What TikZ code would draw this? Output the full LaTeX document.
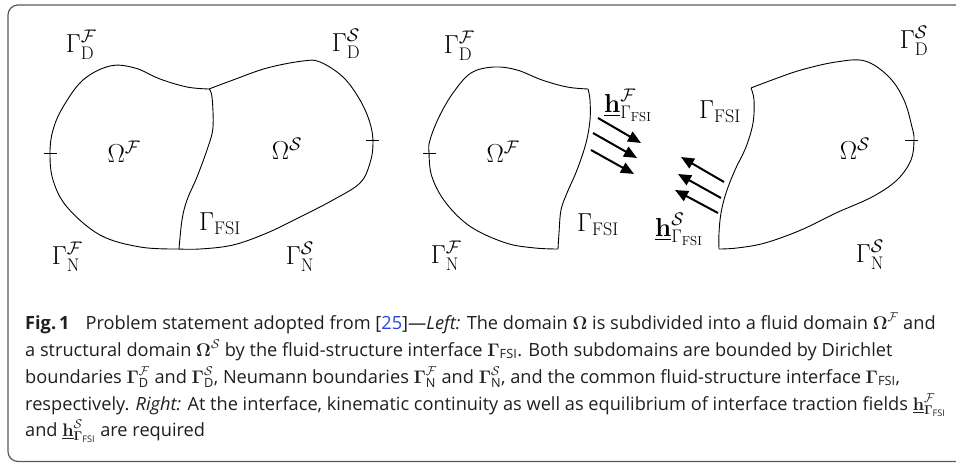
\documentclass[tikz,border=0pt]{standalone}
\usepackage{fix-cm}
\usepackage{amsmath,amssymb}
\usepackage[no-math]{fontspec}
\newfontfamily\capfont[Ligatures=TeX]{Open Sans}
\usetikzlibrary{arrows.meta}
\definecolor{linkblue}{RGB}{40,70,220}
\definecolor{framegray}{RGB}{90,90,90}
\tikzset{
  lab/.style={font=\fontsize{26}{30}\selectfont, inner sep=0pt},
  outline/.style={line width=0.9pt, black},
  tick/.style={line width=0.9pt, black},
  force/.style={line width=2pt, -{Triangle[length=13pt,width=11pt]}},
  capline/.style={anchor=base west, inner sep=0pt, font=\capfont\fontsize{18.2}{22}\selectfont, text=black!88}
}
\begin{document}
\begin{tikzpicture}[x=1pt,y=-1pt]
\useasboundingbox (0,0) rectangle (956,463);
% frame
\draw[framegray, line width=1.2pt, rounded corners=10pt] (962,461.5) -- (8,461.5) -- (8,5) -- (962,5);

% ===== Left figure =====
\draw[outline] plot[smooth, tension=0.6] coordinates {(209,89) (187,87) (160,79) (135,68) (110,66) (83,80) (63,107) (53,130) (50,153) (53,180) (67,207) (100,235) (140,247) (178,249)};
\draw[outline] plot[smooth, tension=0.6] coordinates {(209,89) (233,80) (267,68) (303,61) (320,62) (343,77) (360,100) (370,123) (373,143) (370,163) (360,183) (333,200) (300,217) (267,233) (233,245) (200,249) (178,249)};
\draw[outline] plot[smooth, tension=0.6] coordinates {(209,89) (212,97) (213,127) (208,147) (197,177) (187,200) (182,220) (179,249)};
\draw[tick] (44,153) -- (57,153);
\draw[tick] (366,140) -- (379,140);

\node[lab] (lgFD) at (81,45) {$\Gamma^{\mathcal{F}}_{\mathrm{D}}$};
\node[lab] (lgSD) at (346,44) {$\Gamma^{\mathcal{S}}_{\mathrm{D}}$};
\node[lab] (lOF) at (124,152) {$\Omega^{\mathcal{F}}$};
\node[lab] (lOS) at (287,149) {$\Omega^{\mathcal{S}}$};
\node[lab] (lFSI) at (220,224) {$\Gamma_{\mathrm{FSI}}$};
\node[lab] (lgFN) at (67,257) {$\Gamma^{\mathcal{F}}_{\mathrm{N}}$};
\node[lab] (lgSN) at (300,257) {$\Gamma^{\mathcal{S}}_{\mathrm{N}}$};

% ===== Right figure =====
\draw[outline] plot[smooth, tension=0.6] coordinates {(588,89) (567,87) (542,80) (517,70) (494,67) (471,73) (453,93) (439,117) (430,140) (429,153) (432,177) (446,203) (471,227) (506,243) (535,248) (558,249)};
\draw[outline] plot[smooth, tension=0.6] coordinates {(588,89) (590,100) (590,120) (586,143) (577,170) (567,193) (561,210) (559,233) (558,249)};
\draw[outline] plot[smooth, tension=0.6] coordinates {(751,88) (772,80) (801,70) (836,62) (865,61) (889,77) (904,100) (912,127) (914,140) (911,160) (897,180) (872,197) (836,213) (801,230) (765,243) (737,248) (719,249)};
\draw[outline] plot[smooth, tension=0.6] coordinates {(751,88) (754,100) (753,123) (746,147) (735,170) (726,193) (721,213) (719,233) (719,249)};
\draw[tick] (423,153) -- (436,153);
\draw[tick] (905,140) -- (918,140);

\node[lab] (rgFD) at (459,46) {$\Gamma^{\mathcal{F}}_{\mathrm{D}}$};
\node[lab] (rgSD) at (914,41) {$\Gamma^{\mathcal{S}}_{\mathrm{D}}$};
\node[lab] (rhF) at (628,105) {$\underline{\mathbf{h}}^{\mathcal{F}}_{\Gamma_{\mathrm{FSI}}}$};
\node[lab] (rFSIs) at (720,112) {$\Gamma_{\mathrm{FSI}}$};
\node[lab] (rOF) at (503,152) {$\Omega^{\mathcal{F}}$};
\node[lab] (rOS) at (855,149) {$\Omega^{\mathcal{S}}$};
\node[lab] (rFSIf) at (598,225) {$\Gamma_{\mathrm{FSI}}$};
\node[lab] (rhS) at (679,229) {$\underline{\mathbf{h}}^{\mathcal{S}}_{\Gamma_{\mathrm{FSI}}}$};
\node[lab] (rgFN) at (446,256) {$\Gamma^{\mathcal{F}}_{\mathrm{N}}$};
\node[lab] (rgSN) at (870,255) {$\Gamma^{\mathcal{S}}_{\mathrm{N}}$};

% traction arrows
\coordinate (fa1) at (598,118); \coordinate (fb1) at (641,143);
\coordinate (fa2) at (593,133); \coordinate (fb2) at (637,158);
\coordinate (fa3) at (591,150); \coordinate (fb3) at (634,174);
\coordinate (sa1) at (724,182); \coordinate (sb1) at (681,157);
\coordinate (sa2) at (721,198); \coordinate (sb2) at (678,174);
\coordinate (sa3) at (718,213); \coordinate (sb3) at (675,190);
\draw[force] (fa1) -- (fb1);
\draw[force] (fa2) -- (fb2);
\draw[force] (fa3) -- (fb3);
\draw[force] (sa1) -- (sb1);
\draw[force] (sa2) -- (sb2);
\draw[force] (sa3) -- (sb3);

% ===== Caption =====
\node[capline] (c1) at (25,329) {{\bfseries Fig.\,1}\hspace{16pt}Problem statement adopted from [\textcolor{linkblue}{25}]—\textit{Left:} The domain $\boldsymbol{\Omega}$ is subdivided into a fluid domain $\boldsymbol{\Omega}^{\mathcal{F}}$ and};
\node[capline] (c2) at (25,356) {a structural domain $\boldsymbol{\Omega}^{\mathcal{S}}$ by the fluid-structure interface $\boldsymbol{\Gamma}_{\text{FSI}}$. Both subdomains are bounded by Dirichlet};
\node[capline] (c3) at (25,383) {boundaries $\boldsymbol{\Gamma}^{\mathcal{F}}_{\text{D}}$ and $\boldsymbol{\Gamma}^{\mathcal{S}}_{\text{D}}$, Neumann boundaries $\boldsymbol{\Gamma}^{\mathcal{F}}_{\text{N}}$ and $\boldsymbol{\Gamma}^{\mathcal{S}}_{\text{N}}$, and the common fluid-structure interface $\boldsymbol{\Gamma}_{\text{FSI}}$,};
\node[capline] (c4) at (25,410) {respectively. \textit{Right:} At the interface, kinematic continuity as well as equilibrium of interface traction fields $\underline{\mathbf{h}}^{\mathcal{F}}_{\boldsymbol{\Gamma}_{\text{FSI}}}$};
\node[capline] (c5) at (25,436) {and $\underline{\mathbf{h}}^{\mathcal{S}}_{\boldsymbol{\Gamma}_{\text{FSI}}}$ are required};
\end{tikzpicture}
\end{document}
